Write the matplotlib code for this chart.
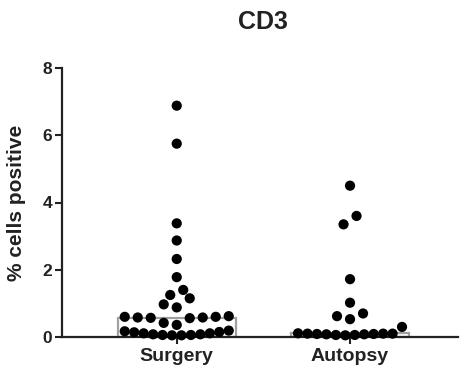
import numpy as np
import matplotlib
matplotlib.use("Agg")
import matplotlib.pyplot as plt

# values (% cells positive)
groups = ["Surgery", "Autopsy"]
surgery = [6.88, 5.75, 3.38, 2.87, 2.32, 1.78, 1.40, 1.25, 1.15, 0.97, 0.88,
           0.62, 0.60, 0.60, 0.58, 0.58, 0.57, 0.56, 0.42, 0.36,
           0.19, 0.17, 0.15, 0.14, 0.11, 0.11, 0.08, 0.08, 0.06, 0.06, 0.05, 0.05]
autopsy = [4.50, 3.60, 3.35, 1.72, 1.02, 0.70, 0.62, 0.53, 0.30,
           0.11, 0.10, 0.10, 0.09, 0.08, 0.06, 0.05, 0.06, 0.08, 0.09, 0.10]
yticks = [0, 2, 4, 6, 8]

plt.rcParams['font.family'] = ['Liberation Sans', 'DejaVu Sans']
plt.rcParams['font.weight'] = 'bold'
ink = '#222222'

W, H, dpi = 473, 379, 100
fig = plt.figure(figsize=(W / dpi, H / dpi), dpi=dpi)
ax = fig.add_axes([62 / W, 1 - 337 / H, (458 - 62) / W, (337 - 68) / H])
xlim = (-0.662, 1.623)
ylim = (0, 8)
ax.set_xlim(*xlim)
ax.set_ylim(*ylim)

# pixel scale of the axes, used to spread points within rows
bb = ax.get_position()
px_x = bb.width * W / (xlim[1] - xlim[0])
px_y = bb.height * H / (ylim[1] - ylim[0])
row_h = 10.0     # px, height of one row of points
step = 13.0      # px, preferred spacing inside a row
max_span = 104.0  # px, widest a row may get


def spread(values):
    vals = np.asarray(values, dtype=float)
    order = np.argsort(vals, kind="stable")
    xs = np.zeros(len(vals))
    rows = []
    for i in order:
        if rows and (vals[i] - vals[rows[-1][0]]) * px_y < row_h:
            rows[-1].append(i)
        else:
            rows.append([i])
    for row in rows:
        n = len(row)
        s = step if n < 2 else min(step, max_span / (n - 1))
        pos = (np.arange(n) - (n - 1) / 2) * s
        pos = sorted(pos, key=lambda p: (round(abs(p), 6), p))
        for i, p in zip(row, pos):
            xs[i] = p
    return xs / px_x


for k, vals in enumerate([surgery, autopsy]):
    ax.bar(k, np.median(vals), width=0.68, facecolor='none', edgecolor='#a0a0a0',
           linewidth=1.6, zorder=1)
    ax.scatter(k + spread(vals), vals, s=54, color='black', edgecolors='none',
               zorder=3, clip_on=False)

for side in ['top', 'right']:
    ax.spines[side].set_visible(False)
for side in ['left', 'bottom']:
    ax.spines[side].set_linewidth(1.6)
    ax.spines[side].set_color(ink)

ax.set_yticks(yticks)
ax.set_xticks([0, 1])
ax.set_xticklabels(groups)
ax.tick_params(axis='y', length=5, width=1.5, color=ink, labelsize=12.5,
               labelcolor=ink, pad=2)
ax.tick_params(axis='x', length=5, width=1.5, color=ink, labelsize=14,
               labelcolor=ink, pad=3)

fig.text(17 / W, 1 - 203 / H, '% cells positive', rotation=90,
         ha='center', va='center', fontsize=15, fontweight='bold', color=ink)
fig.text(263 / W, 1 - 22 / H, 'CD3', ha='center', va='center', fontsize=18,
         fontweight='bold', color=ink)

fig.savefig('out.png', dpi=dpi)
